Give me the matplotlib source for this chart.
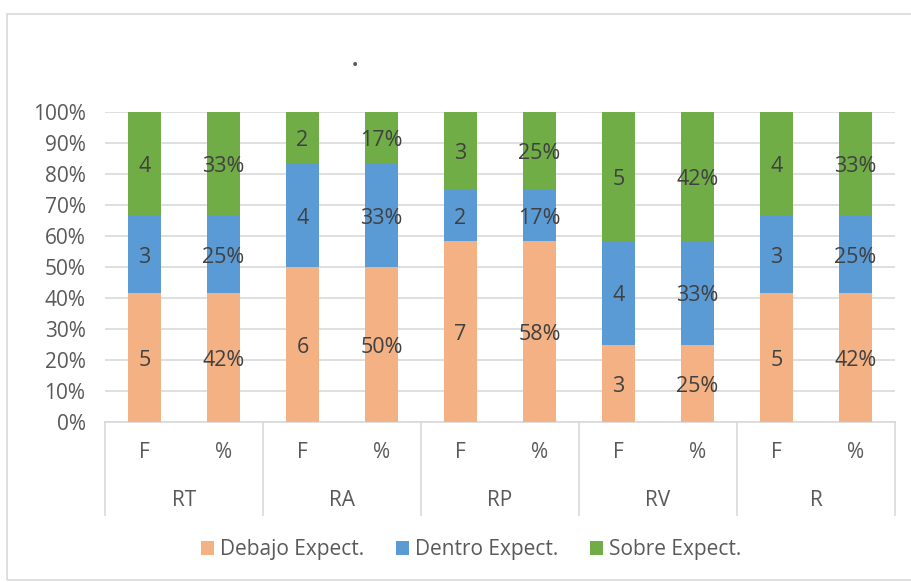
import numpy as np
import matplotlib.pyplot as plt
from matplotlib.patches import Rectangle
from matplotlib.ticker import PercentFormatter

# ==========================================
# Data
# ==========================================

groups = ["RT", "RA", "RP", "RV", "R"]
sub_labels = ["F", "%"]
series_names = ["Debajo Expect.", "Dentro Expect.", "Sobre Expect."]
colors = ["#F4B183", "#5B9BD5", "#70AD47"]

debajo = [5, 6, 7, 3, 5]
dentro = [3, 4, 2, 4, 3]
sobre = [4, 2, 3, 5, 4]

pct_debajo = ["42%", "50%", "58%", "25%", "42%"]
pct_dentro = ["25%", "33%", "17%", "33%", "25%"]
pct_sobre = ["33%", "17%", "25%", "42%", "33%"]

TEXT_COLOR = "#595959"
LABEL_COLOR = "#404040"
GRID_COLOR = "#D9D9D9"

W, H = 911, 582
FS = 15

# ==========================================
# Figure
# ==========================================

plt.rcParams["font.family"] = ["Open Sans", "DejaVu Sans"]

fig = plt.figure(figsize=(W / 100, H / 100), dpi=100)
fig.patches.append(Rectangle((7 / W, 2 / H), 1.2, 1 - 16 / H,
                             transform=fig.transFigure, fill=False,
                             edgecolor="#D9D9D9", linewidth=1.2))

x0, x1, y_top, y_bot = 105, 895, 112, 422
ax = fig.add_axes([x0 / W, 1 - y_bot / H, (x1 - x0) / W, (y_bot - y_top) / H])
px = 1 / (y_bot - y_top)  # one pixel in axes-data units

counts = np.array([debajo, dentro, sobre], dtype=float)
totals = counts.sum(axis=0)
fracs = counts / totals

n = len(groups) * 2
xpos = np.arange(n)
bar_w = 0.41

bottom = np.zeros(n)
for s in range(3):
    heights = np.repeat(fracs[s], 2)
    ax.bar(xpos, heights, bar_w, bottom=bottom, color=colors[s],
           label=series_names[s], zorder=3)
    pct_labels = [pct_debajo, pct_dentro, pct_sobre][s]
    for i in range(n):
        g = i // 2
        txt = str(int(counts[s][g])) if i % 2 == 0 else pct_labels[g]
        ax.text(xpos[i], bottom[i] + heights[i] / 2 - 3 * px, txt,
                ha="center", va="center", fontsize=FS + 0.5,
                color=LABEL_COLOR, zorder=4)
    bottom += heights

ax.set_xlim(-0.5, n - 0.5)
ax.set_ylim(0, 1)
ax.set_yticks(np.arange(0, 1.01, 0.1))
ax.yaxis.set_major_formatter(PercentFormatter(1.0, decimals=0))
ax.tick_params(axis="y", length=0, labelsize=FS, labelcolor=TEXT_COLOR, pad=14)
ax.set_xticks([])
ax.grid(axis="y", color=GRID_COLOR, linewidth=1.2, zorder=0)
for side in ["top", "right", "left"]:
    ax.spines[side].set_visible(False)
ax.spines["bottom"].set_color(GRID_COLOR)
ax.spines["bottom"].set_linewidth(1.2)

# hierarchical category axis
for k in range(len(groups) + 1):
    ax.plot([k * 2 - 0.5] * 2, [0, -93 * px], color=GRID_COLOR,
            linewidth=1.2, clip_on=False)
for i in range(n):
    ax.text(xpos[i], -31 * px, sub_labels[i % 2], ha="center",
            va="center", fontsize=FS, color=TEXT_COLOR)
for g, name in enumerate(groups):
    ax.text(g * 2 + 0.5, -79 * px, name, ha="center",
            va="center", fontsize=FS, color=TEXT_COLOR)

fig.text(355 / W, 1 - 61 / H, ".", ha="center", va="center",
         fontsize=16, color=TEXT_COLOR, fontweight="bold")

fig.legend(loc="center", bbox_to_anchor=(471 / W, 1 - 550 / H), ncol=3,
           frameon=False, fontsize=FS, labelcolor=TEXT_COLOR,
           handlelength=0.63, handleheight=0.63, handletextpad=0.3,
           columnspacing=1.5)

fig.savefig("out.png", dpi=100)
